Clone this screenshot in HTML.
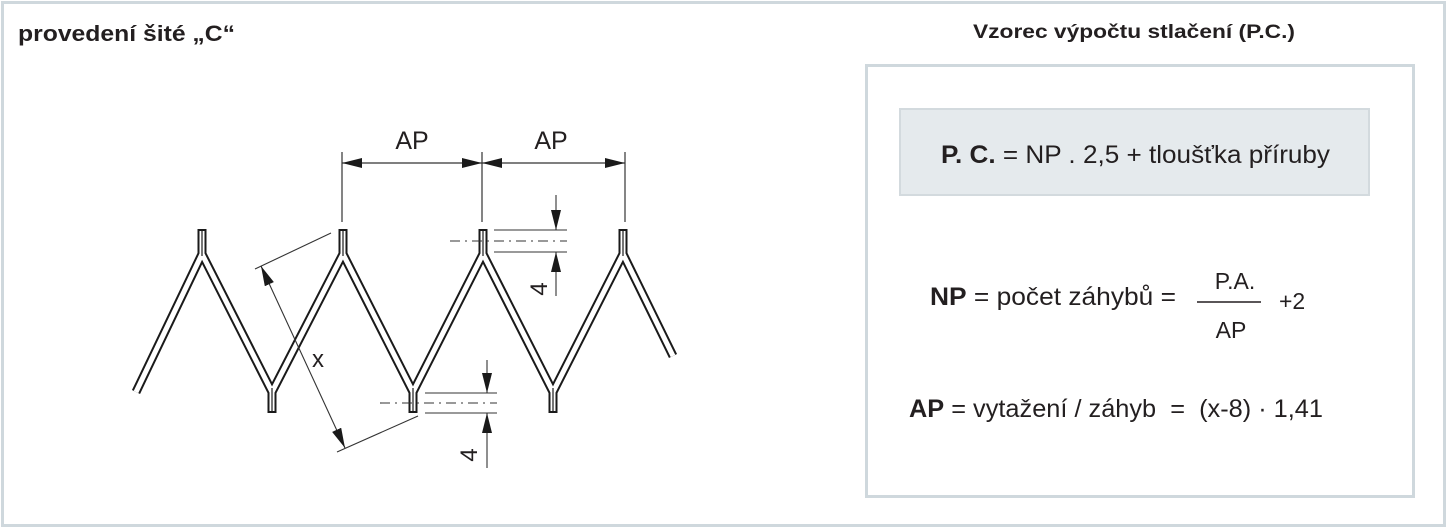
<!DOCTYPE html>
<html><head><meta charset="utf-8"><style>
html,body{margin:0;padding:0;background:#fff;}
svg{display:block;font-family:"Liberation Sans",sans-serif;}
</style></head><body>
<svg width="1447" height="528" viewBox="0 0 1447 528" xmlns="http://www.w3.org/2000/svg">
<defs>
<marker id="ah" viewBox="0 0 20 10" refX="20" refY="5" markerWidth="20" markerHeight="10" markerUnits="userSpaceOnUse" orient="auto-start-reverse"><path d="M0,0 L20,5 L0,10 Z" fill="#1a1a1a"/></marker>
</defs>
<rect x="2.5" y="2.5" width="1442" height="523" fill="#fff" stroke="#cfd8dd" stroke-width="3"/>
<text x="18" y="41" font-size="22" font-weight="bold" fill="#231f20" textLength="217" lengthAdjust="spacingAndGlyphs">provedení šité „C“</text>
<text x="973" y="38" font-size="19" font-weight="bold" fill="#231f20" textLength="322" lengthAdjust="spacingAndGlyphs">Vzorec výpočtu stlačení (P.C.)</text>
<rect x="866.5" y="65.5" width="547" height="431" fill="#fff" stroke="#cfd8dd" stroke-width="3"/>
<rect x="900" y="109" width="469" height="86" fill="#e5eaed" stroke="#d3dade" stroke-width="2"/>
<text x="941" y="163" font-size="25" fill="#231f20" textLength="389" lengthAdjust="spacingAndGlyphs"><tspan font-weight="bold">P. C.</tspan> = NP . 2,5 + tloušťka příruby</text>
<text x="930" y="305" font-size="25" fill="#231f20" textLength="246" lengthAdjust="spacingAndGlyphs"><tspan font-weight="bold">NP</tspan> = počet záhybů =</text>
<text x="1235" y="289" font-size="23" fill="#231f20" text-anchor="middle">P.A.</text>
<line x1="1197" y1="302" x2="1261" y2="302" stroke="#231f20" stroke-width="1.5"/>
<text x="1231" y="338" font-size="23" fill="#231f20" text-anchor="middle">AP</text>
<text x="1279" y="309" font-size="23" fill="#231f20">+2</text>
<text x="909" y="417" font-size="25" fill="#231f20" textLength="414" lengthAdjust="spacingAndGlyphs"><tspan font-weight="bold">AP</tspan> = vytažení / záhyb&#160; =&#160; (x-8) · 1,41</text>

<!-- zigzag -->
<g fill="none" stroke-linejoin="miter" stroke-linecap="butt">
<polyline points="136,392 202,254 272,392 343,254 413,392 483,254 553,392 623,254 673,356" stroke="#1a1a1a" stroke-width="9"/>
<g stroke="#1a1a1a" stroke-width="9">
<line x1="202" y1="229" x2="202" y2="256"/><line x1="343" y1="229" x2="343" y2="256"/><line x1="483" y1="229" x2="483" y2="256"/><line x1="623" y1="229" x2="623" y2="256"/>
<line x1="272" y1="388" x2="272" y2="413"/><line x1="413" y1="388" x2="413" y2="413"/><line x1="553" y1="388" x2="553" y2="413"/>
</g>
<polyline points="136,392 202,254 272,392 343,254 413,392 483,254 553,392 623,254 673,356" stroke="#fff" stroke-width="5"/>
<g stroke="#fff" stroke-width="5">
<line x1="202" y1="231" x2="202" y2="256"/><line x1="343" y1="231" x2="343" y2="256"/><line x1="483" y1="231" x2="483" y2="256"/><line x1="623" y1="231" x2="623" y2="256"/>
<line x1="272" y1="388" x2="272" y2="411"/><line x1="413" y1="388" x2="413" y2="411"/><line x1="553" y1="388" x2="553" y2="411"/>
</g>
<g stroke="#1a1a1a" stroke-width="1.2">
<line x1="202" y1="230" x2="202" y2="256"/><line x1="343" y1="230" x2="343" y2="256"/><line x1="483" y1="230" x2="483" y2="256"/><line x1="623" y1="230" x2="623" y2="256"/>
<line x1="272" y1="388" x2="272" y2="412"/><line x1="413" y1="388" x2="413" y2="412"/><line x1="553" y1="388" x2="553" y2="412"/>
</g>
</g>

<!-- AP dimensions -->
<g stroke="#333" stroke-width="1.2" fill="none">
<line x1="342" y1="152" x2="342" y2="222"/>
<line x1="482" y1="152" x2="482" y2="222"/>
<line x1="625" y1="152" x2="625" y2="222"/>
<line x1="342" y1="163" x2="482" y2="163" marker-start="url(#ah)" marker-end="url(#ah)"/>
<line x1="482" y1="163" x2="625" y2="163" marker-start="url(#ah)" marker-end="url(#ah)"/>
</g>
<text x="412" y="149" font-size="25" fill="#231f20" text-anchor="middle">AP</text>
<text x="551" y="149" font-size="25" fill="#231f20" text-anchor="middle">AP</text>

<!-- top 4 -->
<g stroke="#333" stroke-width="1.1" fill="none">
<line x1="494" y1="230" x2="567" y2="230"/>
<line x1="494" y1="252" x2="567" y2="252"/>
<line x1="450" y1="241" x2="567" y2="241" stroke-dasharray="10,5,2,5"/>
<line x1="556" y1="195" x2="556" y2="230" marker-end="url(#ah)"/>
<line x1="556" y1="296" x2="556" y2="252" marker-end="url(#ah)"/>
</g>
<text transform="translate(547,289) rotate(-90)" font-size="24" fill="#231f20" text-anchor="middle">4</text>

<!-- bottom 4 -->
<g stroke="#333" stroke-width="1.1" fill="none">
<line x1="425" y1="393" x2="497" y2="393"/>
<line x1="425" y1="413" x2="497" y2="413"/>
<line x1="380" y1="403" x2="497" y2="403" stroke-dasharray="10,5,2,5"/>
<line x1="487" y1="360" x2="487" y2="393" marker-end="url(#ah)"/>
<line x1="487" y1="468" x2="487" y2="413" marker-end="url(#ah)"/>
</g>
<text transform="translate(477,455) rotate(-90)" font-size="24" fill="#231f20" text-anchor="middle">4</text>

<!-- x dimension -->
<g stroke="#333" stroke-width="1.1" fill="none">
<line x1="331" y1="233" x2="255" y2="269"/>
<line x1="418" y1="416" x2="337" y2="452"/>
<line x1="261" y1="266" x2="345" y2="448" marker-start="url(#ah)" marker-end="url(#ah)"/>
</g>
<text x="312" y="367" font-size="24" fill="#231f20">x</text>
</svg>
</body></html>
